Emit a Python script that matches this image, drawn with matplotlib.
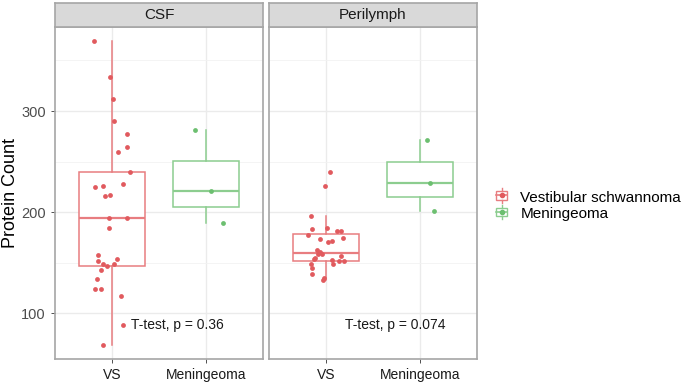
import numpy as np
import matplotlib
matplotlib.use('Agg')
import matplotlib.pyplot as plt
from matplotlib.patches import Rectangle
from matplotlib.lines import Line2D
from matplotlib.legend_handler import HandlerBase

plt.rcParams['font.family'] = ['Liberation Sans', 'DejaVu Sans']

panels = ['CSF', 'Perilymph']
groups = ['VS', 'Meningeoma']
legend_labels = ['Vestibular schwannoma', 'Meningeoma']
pvalues = ['T-test, p = 0.36', 'T-test, p = 0.074']

# protein counts
csf_vs = [369, 334, 312, 290, 277, 264, 260, 240, 228, 226, 225, 217, 216, 194, 194,
          184.5, 158, 152, 149, 147, 148.5, 153.5, 143, 134, 124, 124, 117, 89, 69]
csf_vs_jit = [-0.19, -0.02, 0.01, 0.02, 0.16, 0.16, 0.07, 0.19, 0.12, -0.09, -0.18, -0.02, -0.07, -0.03, 0.16,
              -0.03, -0.14, -0.15, -0.09, -0.05, 0.02, 0.06, -0.11, -0.16, -0.18, -0.11, 0.10, 0.12, -0.09]
csf_men = [281.2, 220.8, 189.4]
csf_men_jit = [-0.12, 0.05, 0.18]

peri_vs = [239.3, 226, 196.3, 183.2, 184.5, 181.9, 181.9, 177.5, 174.3, 173.3, 170.3, 171.3, 162.4, 160.7,
           159.1, 158.4, 157.1, 155.1, 153.5, 152.5, 148.8, 151.5, 151.8, 149.2, 145.2, 138.9, 134.7, 132.7]
peri_vs_jit = [0.04, -0.01, -0.16, -0.14, 0.01, 0.12, 0.16, -0.19, 0.18, -0.06, 0.02, 0.07, -0.09, -0.06,
               -0.08, -0.04, 0.16, -0.11, -0.12, 0.07, 0.08, 0.14, 0.19, -0.16, -0.15, -0.15, -0.02, -0.03]
peri_men = [271.3, 228.4, 201.3]
peri_men_jit = [0.07, 0.10, 0.15]

data = {'CSF': [(csf_vs, csf_vs_jit), (csf_men, csf_men_jit)],
        'Perilymph': [(peri_vs, peri_vs_jit), (peri_men, peri_men_jit)]}

colors = ['#E15A5E', '#6CBF70']
box_colors = ['#E87D80', '#8CCD8F']

W, H = 685, 388
fig = plt.figure(figsize=(W / 100, H / 100), dpi=100)

def fr(x0, y0, x1, y1):
    return [x0 / W, 1 - y1 / H, (x1 - x0) / W, (y1 - y0) / H]

panel_px = [(55, 263), (269, 477)]
top, strip_top, bottom = 27, 3, 359
border = '#A6A6A6'

for i, name in enumerate(panels):
    x0, x1 = panel_px[i]
    ax = fig.add_axes(fr(x0, top, x1, bottom))
    ax.set_xlim(0.4, 2.6)
    ax.set_ylim(55, 383)
    ax.set_yticks([100, 200, 300])
    ax.set_yticks([150, 250, 350], minor=True)
    ax.set_xticks([1, 2])
    ax.grid(True, which='major', color='#EBEBEB', lw=1.0, zorder=0)
    ax.grid(True, which='minor', axis='y', color='#F2F2F2', lw=0.6, zorder=0)
    ax.tick_params(which='minor', length=0)
    ax.tick_params(which='major', length=3, color='#333333', width=0.6, labelcolor='#1A1A1A')
    ax.tick_params(axis='x', labelsize=10)
    if i == 0:
        ax.set_yticklabels(['100', '200', '300'], color='#4D4D4D', fontsize=10.5)
        ax.set_ylabel('Protein Count', fontsize=13)
        ax.yaxis.set_label_coords(-0.175, 0.5)
    else:
        ax.tick_params(axis='y', left=False, labelleft=False)
    ax.set_xticklabels(groups)
    for s in ax.spines.values():
        s.set_color(border)
        s.set_linewidth(1.2)

    for g, (vals, jit) in enumerate(data[name]):
        bp = ax.boxplot([vals], positions=[g + 1], widths=0.7, whis=1.5, showfliers=False,
                        patch_artist=True, manage_ticks=False, zorder=2)
        for b in bp['boxes']:
            b.set_facecolor('white')
            b.set_edgecolor(box_colors[g])
            b.set_linewidth(1.1)
        for k in ['whiskers', 'medians']:
            for ln in bp[k]:
                ln.set_color(box_colors[g])
                ln.set_linewidth(1.1 if k == 'whiskers' else 1.6)
        for ln in bp['caps']:
            ln.set_visible(False)
        ax.scatter(np.array(jit) + g + 1, vals, s=12, color=colors[g], lw=0, zorder=3)

    ax.text(1.2, 89, pvalues[i], fontsize=10, ha='left', va='center', color='#1A1A1A', zorder=4)

    sax = fig.add_axes(fr(x0, strip_top, x1, top))
    sax.set_xticks([])
    sax.set_yticks([])
    sax.set_facecolor('#D9D9D9')
    for s in sax.spines.values():
        s.set_color(border)
        s.set_linewidth(1.2)
    sax.text(0.5, 0.5, name, ha='center', va='center', fontsize=11, color='#1A1A1A',
             transform=sax.transAxes)


class BoxKey(HandlerBase):
    def create_artists(self, legend, orig, xd, yd, width, height, fontsize, trans):
        c = orig.get_color()
        cx = xd + width / 2
        cy = yd + height / 2
        bw, bh = width * 0.8, height * 0.7
        r = Rectangle((cx - bw / 2, cy - bh / 2), bw, bh, fill=False, ec=c, lw=1.0, transform=trans)
        m = Line2D([cx - bw / 2, cx + bw / 2], [cy, cy], color=c, lw=1.2, transform=trans)
        w1 = Line2D([cx, cx], [yd - 1, cy - bh / 2], color=c, lw=1.0, transform=trans)
        w2 = Line2D([cx, cx], [cy + bh / 2, yd + height + 1], color=c, lw=1.0, transform=trans)
        p = Line2D([cx], [cy], marker='o', ms=3, color=orig.get_markerfacecolor(), lw=0, transform=trans)
        return [r, m, w1, w2, p]


handles = [Line2D([], [], color=box_colors[g], marker='o', markerfacecolor=colors[g]) for g in range(2)]
fig.legend(handles, legend_labels, loc='center left', bbox_to_anchor=(489 / W, 1 - 206 / H),
           frameon=False, fontsize=11, handler_map={Line2D: BoxKey()}, handlelength=0.9,
           handleheight=0.8, handletextpad=0.75, labelspacing=0.15, borderaxespad=0)

fig.savefig('out.png', dpi=100)
